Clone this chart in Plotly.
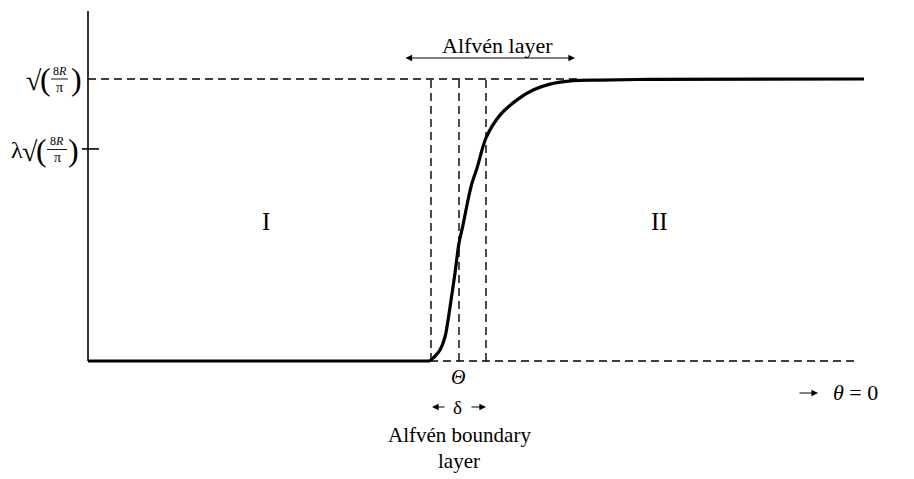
import plotly.graph_objects as go

# ---- data (x: horizontal position units, y: field normalised to sqrt(8R/pi)) ----
curve_x = [88, 430, 432, 436, 440, 445, 450, 455, 459, 463, 468, 472, 477, 486,
           500, 517, 533, 550, 573, 600, 650, 864]
curve_y = [0.0, 0.0, 0.007, 0.021, 0.039, 0.085, 0.191, 0.312, 0.418, 0.482,
           0.571, 0.631, 0.684, 0.791, 0.872, 0.926, 0.961, 0.982, 0.994,
           0.996, 0.9986, 1.0]
lam = 0.752                 # lambda * sqrt(8R/pi)
top = 1.0                   # sqrt(8R/pi)
axis_x = 88
vlines_x = [431, 459, 486]  # boundary-layer edges and Theta
base_dash_x = [430, 858]
top_dash_x = [88, 580]
layer_span = [404, 575]

SERIF = "Liberation Serif"
K = "black"

# page offset compensation (body margin of 8px)
OFF = 8
W, H = 914 - OFF, 479 - OFF
PX_Y0, PX_PER = 361.0, 282.0   # pixel row of y=0 and pixels per unit


def ypx(py):
    return (PX_Y0 - py) / PX_PER


fig = go.Figure()

# y axis line
fig.add_trace(go.Scatter(x=[axis_x, axis_x], y=[ypx(11), 0.0], mode="lines",
                         line=dict(color=K, width=1.6), hoverinfo="skip"))
# lambda tick
fig.add_trace(go.Scatter(x=[axis_x - 6, axis_x + 11], y=[lam, lam], mode="lines",
                         line=dict(color=K, width=1.6), hoverinfo="skip"))
# top dashed line
fig.add_trace(go.Scatter(x=top_dash_x, y=[top, top], mode="lines",
                         line=dict(color=K, width=1.4, dash="8px,5px"), hoverinfo="skip"))
# baseline dashed
fig.add_trace(go.Scatter(x=base_dash_x, y=[0, 0], mode="lines",
                         line=dict(color=K, width=1.4, dash="8px,5px"), hoverinfo="skip"))
# vertical dashed lines
for vx in vlines_x:
    fig.add_trace(go.Scatter(x=[vx, vx], y=[0, top], mode="lines",
                             line=dict(color=K, width=1.4, dash="8px,5px"), hoverinfo="skip"))
# main curve: flat part (straight) + rising part (smoothed)
fig.add_trace(go.Scatter(x=curve_x[:2], y=curve_y[:2], mode="lines",
                         line=dict(color=K, width=3.0), hoverinfo="skip"))
fig.add_trace(go.Scatter(x=curve_x[1:], y=curve_y[1:], mode="lines",
                         line=dict(color=K, width=3.2, shape="spline", smoothing=0.8),
                         hoverinfo="skip"))
# fraction bars
fig.add_trace(go.Scatter(x=[51, 68], y=[top, top], mode="lines",
                         line=dict(color=K, width=0.9), hoverinfo="skip"))
fig.add_trace(go.Scatter(x=[47, 67], y=[lam - 0.002, lam - 0.002], mode="lines",
                         line=dict(color=K, width=0.9), hoverinfo="skip"))

ann = []


def txt(x, y, s, size=20, italic=False, xanchor="center"):
    ann.append(dict(x=x, y=y, xref="x", yref="y", text=("<i>%s</i>" % s) if italic else s,
                    showarrow=False, xanchor=xanchor, yanchor="middle",
                    font=dict(family=SERIF, size=size, color=K)))


def arrow(x0, y0, x1, y1, side="end"):
    ann.append(dict(x=x1, y=y1, ax=x0, ay=y0, xref="x", yref="y", axref="x", ayref="y",
                    text="", showarrow=True, arrowhead=2, arrowsize=1.2, arrowwidth=1.1,
                    arrowcolor=K, arrowside=side))


# y labels: sqrt(8R/pi)
txt(34, ypx(80), "√", 28)
txt(45, ypx(79), "(", 32)
txt(59.5, ypx(71), "8<i>R</i>", 12)
txt(59.5, ypx(87), "π", 14)
txt(76, ypx(79), ")", 32)
# lambda sqrt(8R/pi)
txt(17, ypx(150), "λ", 24)
txt(30, ypx(151), "√", 28)
txt(41, ypx(150), "(", 32)
txt(57, ypx(141), "8<i>R</i>", 12)
txt(57, ypx(157), "π", 14)
txt(73, ypx(150), ")", 32)

txt(497, ypx(45), "Alfvén layer", 22)
arrow(layer_span[0], ypx(58), layer_span[1], ypx(58), side="end+start")
txt(266, ypx(221), "I", 25)
txt(659, ypx(221), "II", 25)
txt(458, ypx(377), "Θ", 20, italic=True)
txt(457, ypx(407), "δ", 19)
arrow(446, ypx(407), 432, ypx(407))
arrow(470, ypx(407), 486, ypx(407))
txt(459, ypx(435), "Alfvén boundary", 21)
txt(459, ypx(461), "layer", 21)
arrow(798, ypx(393), 818, ypx(393))
txt(831, ypx(392), "<i>θ</i> = 0", 22, xanchor="left")

fig.update_layout(
    width=W, height=H,
    margin=dict(l=0, r=0, t=0, b=0),
    paper_bgcolor="white", plot_bgcolor="white",
    showlegend=False,
    xaxis=dict(range=[OFF, 914], visible=False, fixedrange=True),
    yaxis=dict(range=[ypx(479), ypx(OFF)], visible=False, fixedrange=True),
    annotations=ann,
)

fig.write_html("out.html")
